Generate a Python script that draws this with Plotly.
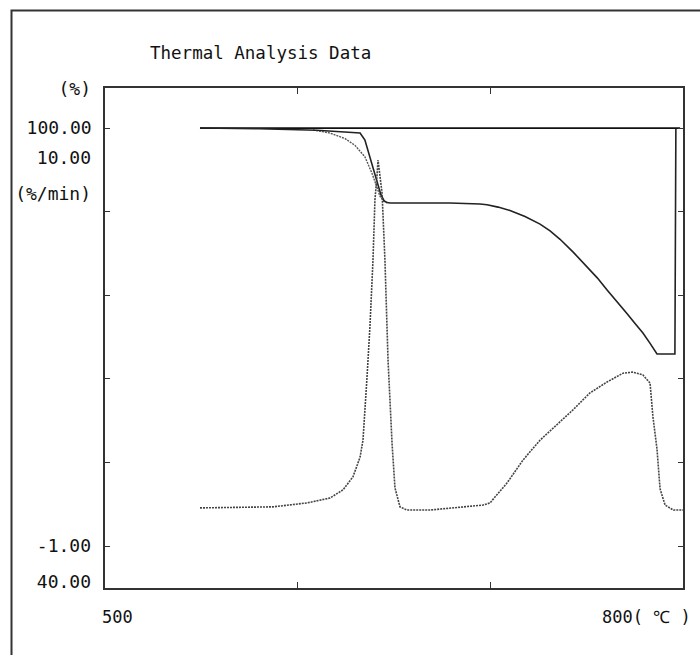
import plotly.graph_objects as go

# ---- data (temperature in deg C) ----
temp_tg = [549.3, 580.0, 610.0, 632.4, 634.9, 636.5, 638.6, 640.2, 641.7, 643.2, 644.8, 646.4,
           648.0, 679.0, 694.6, 698.3, 704.0, 710.2, 718.0, 725.8, 731.0, 736.2, 743.0, 750.2,
           755.5, 760.6, 765.8, 770.9, 775.0, 779.2, 783.0, 786.5, 795.8, 796.3]
tg_main = [100.0, 99.9, 99.7, 99.34, 98.4, 97.0, 95.5, 94.0, 92.5, 91.2, 90.4, 90.15,
           90.09, 90.09, 89.96, 89.85, 89.55, 89.1, 88.3, 87.3, 86.4, 85.3, 83.6, 81.6,
           80.2, 78.6, 77.1, 75.5, 74.2, 72.9, 71.5, 70.13, 70.13, 99.9]

temp_ref = [549.3, 798.5]
tg_ref = [100.0, 100.0]

temp_tg2 = [608.0, 616.8, 624.6, 629.8, 634.9, 638.6, 640.7, 642.7, 644.8, 646.4]
tg_alt = [99.74, 99.34, 98.6, 97.7, 96.2, 94.0, 92.5, 91.0, 90.3, 90.1]

temp_dtg = [549.3, 587.2, 604.8, 616.8, 623.5, 628.7, 632.4, 633.9, 636.0, 637.5, 639.1, 640.1,
            641.2, 641.7, 643.8, 645.3, 646.9, 649.0, 650.5, 653.1, 656.7, 668.7, 696.2, 699.8,
            708.7, 717.0, 725.8, 734.6, 742.9, 751.7, 760.6, 768.9, 774.0, 779.2, 782.9, 784.4,
            786.5, 788.1, 790.7, 795.0, 800.0]
dtg = [0.08, 0.11, 0.22, 0.36, 0.59, 0.96, 1.52, 2.0, 3.79, 5.21, 7.11, 8.81,
       9.52, 9.94, 9.01, 7.11, 4.27, 1.9, 0.65, 0.11, 0.02, 0.02, 0.16, 0.22,
       0.79, 1.44, 2.0, 2.43, 2.86, 3.34, 3.65, 3.90, 3.93, 3.85, 3.62, 2.66,
       1.75, 0.62, 0.16, 0.02, 0.02]

tg_tick_marks = [100, 89.03, 77.93, 66.96, 55.86, 44.76]
tg_tick_text = ["100.00", "", "", "", "", ""]
tg_extra_vals = [105.25, 40]
tg_extra_text = ["(%)", "40.00"]
dtg_vals = [10, 9.0, -1]
dtg_text = ["10.00", "(%/min)", "-1.00"]
x_tick_marks = [600, 700]

FONT = "DejaVu Sans Mono"
LINE = "#333333"
TG_RANGE = [39.21, 105.29]
DTG_RANGE = [-2.191, 11.985]

fig = go.Figure()
fig.add_trace(go.Scatter(x=temp_dtg, y=dtg, mode="lines", yaxis="y2",
                         line=dict(color="#444444", width=1.6, dash="2px,1px"), showlegend=False))
fig.add_trace(go.Scatter(x=temp_tg2, y=tg_alt, mode="lines",
                         line=dict(color="#555555", width=1.4, dash="2px,1px"), showlegend=False))
fig.add_trace(go.Scatter(x=temp_ref, y=tg_ref, mode="lines",
                         line=dict(color="#111111", width=1.8), showlegend=False))
fig.add_trace(go.Scatter(x=temp_tg, y=tg_main, mode="lines",
                         line=dict(color="#222222", width=1.6), showlegend=False))

fig.update_layout(
    width=700, height=655, autosize=False,
    margin=dict(l=105, r=17, t=88, b=67),
    paper_bgcolor="white", plot_bgcolor="white",
    font=dict(family=FONT, size=18, color="#111111"),
    title=dict(text="Thermal Analysis Data", x=(150 - 105) / 578, xref="paper", xanchor="left",
               y=1 - 53 / 655, yref="container", yanchor="middle",
               font=dict(family=FONT, size=17.5, color="#111111")),
    xaxis=dict(range=[500, 800], tickvals=x_tick_marks, ticks="inside", ticklen=6,
               tickcolor=LINE, showticklabels=False, showline=True, linecolor=LINE,
               linewidth=1.5, mirror="ticks", showgrid=False, zeroline=False),
    yaxis=dict(range=TG_RANGE, tickvals=tg_tick_marks, ticktext=tg_tick_text, ticks="inside",
               ticklen=5, tickcolor=LINE, showline=True, linecolor=LINE, linewidth=1.5,
               mirror="ticks", showgrid=False, zeroline=False, ticklabelstandoff=8),
    yaxis2=dict(range=DTG_RANGE, overlaying="y", side="left", anchor="x", tickvals=dtg_vals,
                ticktext=dtg_text, ticks="", showline=False, showgrid=False, zeroline=False,
                ticklabelstandoff=13),
    yaxis3=dict(range=TG_RANGE, overlaying="y", side="left", anchor="x", tickvals=tg_extra_vals,
                ticktext=tg_extra_text, ticks="", showline=False, showgrid=False, zeroline=False,
                ticklabelstandoff=13),
)
# invisible trace to activate yaxis3
fig.add_trace(go.Scatter(x=[temp_ref[0]], y=[tg_ref[0]], yaxis="y3", mode="lines",
                         line=dict(width=0), hoverinfo="skip", showlegend=False))

fig.add_annotation(text="500", x=500, xref="x", xanchor="left", xshift=-5,
                   y=-29 / 500, yref="paper", yanchor="middle", showarrow=False,
                   font=dict(family=FONT, size=17, color="#111111"))
fig.add_annotation(text="800( ℃ )", x=800, xref="x", xanchor="right", xshift=10,
                   y=-29 / 500, yref="paper", yanchor="middle", showarrow=False,
                   font=dict(family=FONT, size=17, color="#111111"))

# outer frame of the scanned sheet (only left/top edges fall inside the picture)
fig.add_shape(type="rect", xref="paper", yref="paper",
              x0=(11.5 - 105) / 578, x1=1.2, y0=-0.3, y1=(588 - 10.5) / 500,
              line=dict(color="#333333", width=2))

fig.write_html("out.html")
